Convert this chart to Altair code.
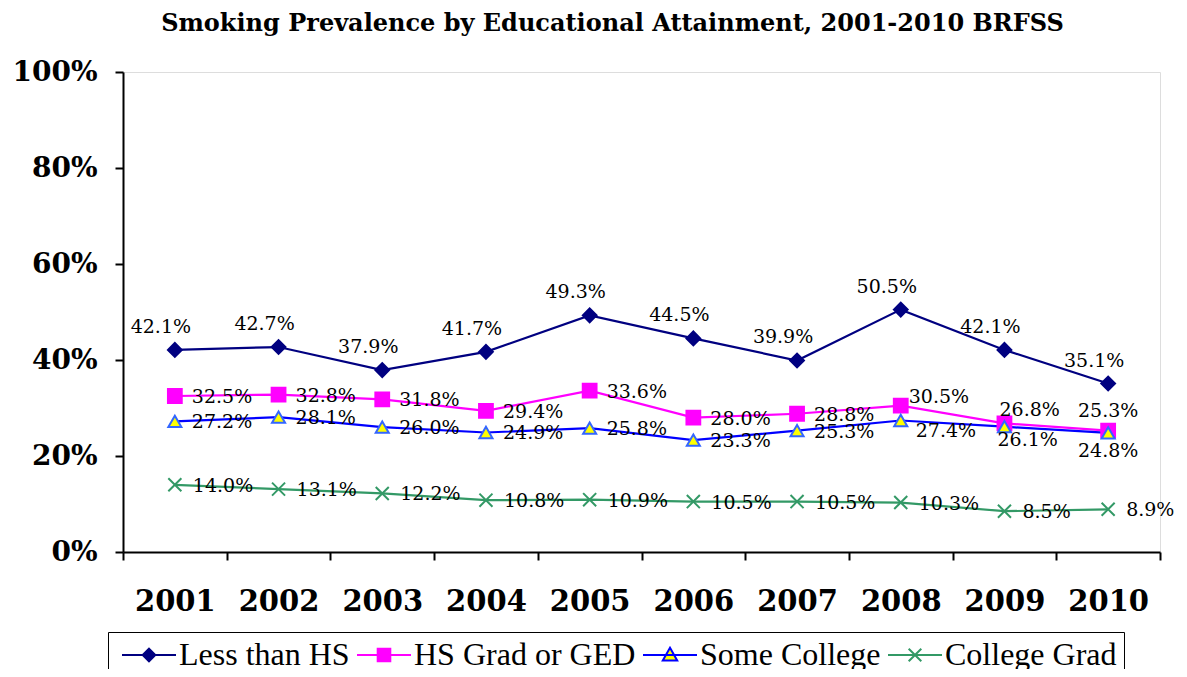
import altair as alt
import pandas as pd

years = ["2001", "2002", "2003", "2004", "2005", "2006", "2007", "2008", "2009", "2010"]
series = ["Less than HS", "HS Grad or GED", "Some College", "College Grad"]
less_hs = [42.1, 42.7, 37.9, 41.7, 49.3, 44.5, 39.9, 50.5, 42.1, 35.1]
hs_grad = [32.5, 32.8, 31.8, 29.4, 33.6, 28.0, 28.8, 30.5, 26.8, 25.3]
some_college = [27.2, 28.1, 26.0, 24.9, 25.8, 23.3, 25.3, 27.4, 26.1, 24.8]
college_grad = [14.0, 13.1, 12.2, 10.8, 10.9, 10.5, 10.5, 10.3, 8.5, 8.9]
y_ticks = [0, 20, 40, 60, 80, 100]

rows = []
for s, vals in zip(series, [less_hs, hs_grad, some_college, college_grad]):
    for yr, v in zip(years, vals):
        rows.append({"year": yr, "series": s, "value": v})
df = pd.DataFrame(rows)

line_colors = ["#000080", "#FF00FF", "#0000FF", "#339966"]
fill_colors = ["#000080", "#FF00FF", "#FFFF00", "#339966"]
legend_paths = [
    "M-1,0H5M2,-0.7L2.7,0L2,0.7L1.3,0Z",
    "M-1,0H5M1.3,-0.7H2.7V0.7H1.3Z",
    "M-1,0H5M2,-0.8L2.8,0.6H1.2Z",
    "M-1,0H5M1.3,-0.7L2.7,0.7M1.3,0.7L2.7,-0.7",
]
X_PATH = "M-1,-1L1,1M-1,1L1,-1"
SERIF = "DejaVu Serif"

x_enc = alt.X(
    "year:O", title=None, bandPosition=0.5,
    scale=alt.Scale(type="band", domain=years, paddingInner=0, paddingOuter=0),
    axis=alt.Axis(tickBand="extent", labelAngle=0, tickSize=8, labelPadding=27,
                  labelFont=SERIF, labelFontSize=29, labelFontWeight="bold",
                  labelColor="black", domainColor="black", domainWidth=2,
                  tickColor="black", tickWidth=2, grid=False),
)
y_enc = alt.Y(
    "value:Q", title=None,
    scale=alt.Scale(domain=[0, 100], nice=False, zero=True),
    axis=alt.Axis(values=y_ticks, labelExpr="datum.value + '%'", tickSize=8,
                  labelPadding=18, labelFont=SERIF, labelFontSize=28,
                  labelFontWeight="bold", labelColor="black", domainColor="black",
                  domainWidth=2, tickColor="black", tickWidth=2, grid=False),
)

base = alt.Chart(df).encode(x=x_enc, y=y_enc)
stroke_scale = alt.Scale(domain=series, range=line_colors)

legend_def = alt.Legend(
    orient="none", legendX=-15, legendY=560, direction="horizontal",
    columns=4, columnPadding=0, labelFont="Liberation Serif", labelFontSize=32,
    labelColor="black", labelOffset=32, labelLimit=400, symbolSize=324,
    symbolStrokeWidth=2, symbolOpacity=1, strokeColor="black", fillColor="white",
    padding=7,
)

lines = base.mark_line(strokeWidth=2.2).encode(
    stroke=alt.Stroke("series:N", scale=stroke_scale, legend=legend_def, title=None)
)

# invisible layer that only feeds the legend (line + marker symbols)
legend_layer = base.mark_point(filled=True, opacity=0, size=324, strokeWidth=2).encode(
    stroke=alt.Stroke("series:N", scale=stroke_scale, legend=legend_def, title=None),
    fill=alt.Fill("series:N", scale=alt.Scale(domain=series, range=fill_colors),
                  legend=legend_def, title=None),
    shape=alt.Shape("series:N", scale=alt.Scale(domain=series, range=legend_paths),
                    legend=legend_def, title=None),
)


def sel(name, yrs=None):
    b = base.transform_filter(alt.datum.series == name)
    if yrs is not None:
        b = b.transform_filter(alt.FieldOneOfPredicate(field="year", oneOf=yrs))
    return b


m_less = sel(series[0]).mark_point(shape="diamond", filled=True, fill="#000080",
                                    stroke="#000080", size=190, opacity=1)
m_hs = sel(series[1]).mark_point(shape="square", filled=True, fill="#FF00FF",
                                  stroke="#FF00FF", size=190, opacity=1)
m_sc = sel(series[2]).mark_point(shape="triangle-up", filled=True, fill="#FFFF00",
                                  stroke="#3366FF", strokeWidth=2, size=170, opacity=1)
m_cg = sel(series[3]).mark_point(shape=X_PATH, filled=False, stroke="#339966",
                                  strokeWidth=2, size=170, opacity=1)


def labels(name, yrs, **kw):
    return sel(name, yrs).transform_calculate(
        label="format(datum.value, '.1f') + '%'"
    ).mark_text(font=SERIF, fontSize=19, color="black", baseline="middle", **kw).encode(
        text="label:N"
    )


t_less = labels(series[0], None, align="center", dx=-14, dy=-23)
t_hs = labels(series[1], years[:7], align="left", dx=17, dy=1)
t_hs08 = labels(series[1], ["2008"], align="left", dx=8, dy=-9)
t_hs09 = labels(series[1], ["2009"], align="left", dx=-5, dy=-13)
t_hs10 = labels(series[1], ["2010"], align="center", dx=0, dy=-20)
t_sc = labels(series[2], years[:7], align="left", dx=17, dy=1)
t_sc08 = labels(series[2], ["2008"], align="left", dx=15, dy=11)
t_sc09 = labels(series[2], ["2009"], align="left", dx=-7, dy=13)
t_sc10 = labels(series[2], ["2010"], align="center", dx=0, dy=18)
t_cg = labels(series[3], None, align="left", dx=18, dy=1)

chart = alt.layer(
    lines, legend_layer, m_less, m_hs, m_sc, m_cg,
    t_less, t_hs, t_hs08, t_hs09, t_hs10, t_sc, t_sc08, t_sc09, t_sc10, t_cg,
).properties(
    width=1037, height=480,
    title=alt.TitleParams(
        "Smoking Prevalence by Educational Attainment, 2001-2010 BRFSS",
        font=SERIF, fontSize=24, fontWeight="bold", color="black",
        anchor="middle", frame="group", offset=22, dx=-29,
    ),
    autosize=alt.AutoSizeParams(type="none"),
    padding={"left": 115, "top": 64, "right": 19, "bottom": 117},
).configure_view(stroke="#808080", strokeWidth=2).configure(background="white")

chart.save("out.html", embed_options={"renderer": "svg", "actions": False})
